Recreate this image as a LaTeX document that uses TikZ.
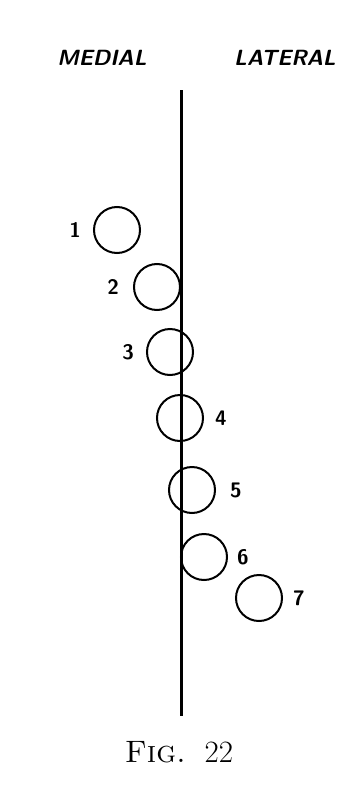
\documentclass[tikz,border=0pt]{standalone}
\usepackage{tikz}
\usetikzlibrary{positioning}

\begin{document}
\begin{tikzpicture}[
  x=1pt, y=-1pt,
  node distance=12pt,
  ring/.style={circle, draw, line width=2pt, minimum size=46pt, inner sep=0pt},
  num/.style={inner sep=0pt, font=\fontsize{21}{21}\selectfont\sffamily\bfseries},
  side/.style={inner sep=0pt, font=\fontsize{22}{22}\selectfont\sffamily\bfseries\itshape},
  axis/.style={line width=3pt}
]
  \useasboundingbox (0,0) rectangle (354,792);

  % Headings
  \node[side] (medial) at (102,58) {MEDIAL};
  \node[side] (lateral) at (285,58) {LATERAL};

  % Midline
  \coordinate (top) at (181,90);
  \coordinate (bot) at (181,716);
  \draw[axis] (top) -- (bot);

  % Circles
  \node[ring] (c1) at (117,230) {};
  \node[ring] (c2) at (157,287) {};
  \node[ring] (c3) at (170,352) {};
  \node[ring] (c4) at (180,418) {};
  \node[ring] (c5) at (192,490) {};
  \node[ring] (c6) at (204,557) {};
  \node[ring] (c7) at (259,598) {};

  % Numbers
  \node[num, left=12pt of c1] (n1) {1};
  \node[num, left=14pt of c2] (n2) {2};
  \node[num, left=12pt of c3] (n3) {3};
  \node[num, right=11pt of c4] (n4) {4};
  \node[num, right=14pt of c5] (n5) {5};
  \node[num, right=9pt of c6] (n6) {6};
  \node[num, right=10pt of c7] (n7) {7};

  % Caption
  \node[inner sep=0pt, font=\fontsize{31}{31}\selectfont] (cap) at (179,752) {\textsc{Fig.}\ \ 22};
\end{tikzpicture}
\end{document}
